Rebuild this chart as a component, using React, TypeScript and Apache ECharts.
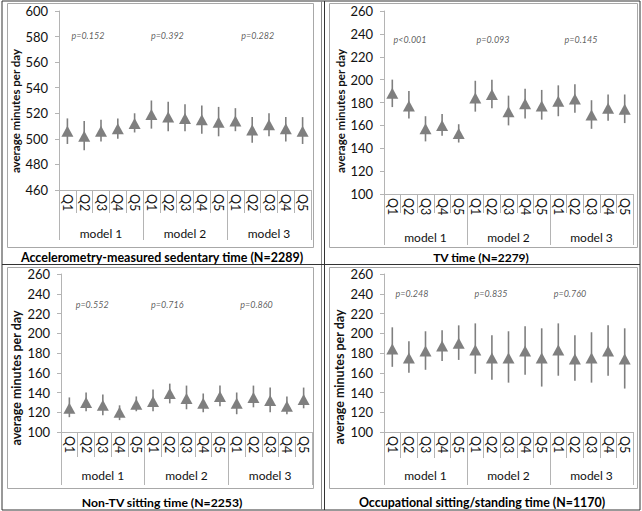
import React, { useEffect, useRef } from "react";
import * as echarts from "echarts";

const QUARTILES = ["Q1", "Q2", "Q3", "Q4", "Q5", "Q1", "Q2", "Q3", "Q4", "Q5", "Q1", "Q2", "Q3", "Q4", "Q5"];
const MODELS = ["model 1", "model 2", "model 3"];

// Accelerometry-measured sedentary time
const accelMean = [506, 502, 506, 508, 512, 519, 517, 516, 515, 513, 514, 507, 511, 508, 506];
const accelLow = [496, 491, 498, 500, 505, 508, 506, 506, 504, 502, 506, 497, 502, 498, 496];
const accelHigh = [516, 514, 515, 516, 520, 530, 529, 527, 526, 525, 524, 517, 520, 517, 517];
const accelP = ["p=0.152", "p=0.392", "p=0.282"];

// TV time
const tvMean = [188, 177, 157, 160, 153, 184, 187, 172, 179, 177, 181, 183, 169, 175, 174];
const tvLow = [176, 166, 146, 151, 145, 172, 175, 160, 166, 165, 168, 171, 157, 164, 162];
const tvHigh = [200, 190, 168, 170, 161, 199, 200, 186, 192, 191, 195, 196, 182, 187, 187];
const tvP = ["p<0.001", "p=0.093", "p=0.145"];

// Non-TV sitting time
const nonTvMean = [124, 130, 127, 120, 128, 131, 139, 134, 129, 136, 129, 135, 132, 126, 133];
const nonTvLow = [115, 121, 117, 112, 121, 121, 129, 123, 120, 126, 118, 125, 120, 118, 124];
const nonTvHigh = [135, 140, 138, 127, 136, 143, 149, 147, 139, 147, 140, 147, 145, 136, 145];
const nonTvP = ["p=0.552", "p=0.716", "p=0.860"];

// Occupational sitting/standing time
const occMean = [184, 175, 182, 187, 190, 183, 175, 175, 182, 175, 183, 174, 175, 182, 174];
const occLow = [166, 160, 163, 172, 173, 159, 153, 150, 158, 146, 157, 152, 150, 157, 144];
const occHigh = [206, 192, 202, 203, 208, 210, 198, 202, 207, 205, 210, 198, 201, 208, 205];
const occP = ["p=0.248", "p=0.835", "p=0.760"];

const TITLES = [
  "Accelerometry-measured sedentary time (N=2289)",
  "TV time (N=2279)",
  "Non-TV sitting time (N=2253)",
  "Occupational sitting/standing time (N=1170)",
];
const Y_MIN = [460, 100, 100, 100];
const Y_MAX = [600, 260, 260, 260];
const Y_NAME = "average minutes per day";

const PANELS = [
  { mean: accelMean, low: accelLow, high: accelHigh, p: accelP, pX: [1.72, 6.45, 11.83], pY: 581 },
  { mean: tvMean, low: tvLow, high: tvHigh, p: tvP, pX: [1.57, 6.57, 11.87], pY: 235 },
  { mean: nonTvMean, low: nonTvLow, high: nonTvHigh, p: nonTvP, pX: [1.86, 6.35, 11.68], pY: 229 },
  { mean: occMean, low: occLow, high: occHigh, p: occP, pX: [1.69, 6.45, 11.2], pY: 240 },
];

// layout (pixels)
const LAYOUT = [
  { left: 59, top: 11, width: 252, height: 179, qTick: 23, gTick: 50, nameGap: 33, nameSize: 11.5, nameShift: 21, box: [7, 3, 306, 244], titleX: 162, titleY: 257, titleSize: 12.5 },
  { left: 384, top: 11, width: 249, height: 183, qTick: 19, gTick: 51, nameGap: 37, nameSize: 11.5, nameShift: 17, box: [329, 3, 308, 244], titleX: 481, titleY: 257, titleSize: 12 },
  { left: 61, top: 274, width: 251, height: 158, qTick: 25, gTick: 53, nameGap: 35, nameSize: 12.5, nameShift: 50, box: [7, 267, 306, 221], titleX: 162, titleY: 502, titleSize: 12.2 },
  { left: 384, top: 274, width: 249, height: 158, qTick: 26, gTick: 53, nameGap: 37, nameSize: 12.5, nameShift: 48, box: [329, 267, 308, 221], titleX: 482, titleY: 502, titleSize: 12.4 },
];

const AXIS_GRAY = "#b4b4b4";
const MARK_GRAY = "#7f7f7f";
const FONT = "Lato";

export default function App() {
  const ref = useRef<HTMLDivElement>(null);

  useEffect(() => {
    if (!ref.current) return;
    const chart = echarts.init(ref.current, undefined, { renderer: "svg" });

    const grid: any[] = [];
    const xAxis: any[] = [];
    const yAxis: any[] = [];
    const series: any[] = [];
    const graphic: any[] = [];

    graphic.push({
      type: "rect",
      shape: { x: 2, y: 1, width: 638, height: 509 },
      style: { fill: "none", stroke: "#333", lineWidth: 1 },
      silent: true,
    });
    graphic.push({ type: "line", shape: { x1: 321.5, y1: 1, x2: 321.5, y2: 510 }, style: { stroke: "#888", lineWidth: 1 } });
    graphic.push({ type: "line", shape: { x1: 324.5, y1: 1, x2: 324.5, y2: 510 }, style: { stroke: "#333", lineWidth: 1 } });
    graphic.push({ type: "line", shape: { x1: 2, y1: 264.5, x2: 640, y2: 264.5 }, style: { stroke: "#333", lineWidth: 1 } });

    PANELS.forEach((p, i) => {
      const L = LAYOUT[i];
      grid.push({ left: L.left, top: L.top, width: L.width, height: L.height });
      xAxis.push({
        type: "category",
        gridIndex: i,
        data: QUARTILES,
        axisLine: { show: true, lineStyle: { color: AXIS_GRAY, width: 1 } },
        axisTick: { show: true, interval: 0, length: L.qTick, lineStyle: { color: AXIS_GRAY } },
        axisLabel: { interval: 0, rotate: -90, margin: 4, fontSize: 12.5, color: "#111", fontFamily: FONT },
        splitLine: { show: false },
      });
      xAxis.push({
        type: "category",
        gridIndex: i,
        data: MODELS,
        position: "bottom",
        axisLine: { show: false },
        axisTick: { show: true, interval: 0, length: L.gTick, lineStyle: { color: AXIS_GRAY } },
        axisLabel: { interval: 0, margin: 37, fontSize: 12, color: "#111", fontFamily: FONT },
        splitLine: { show: false },
      });
      xAxis.push({ type: "value", gridIndex: i, min: 0, max: 15, show: false });
      yAxis.push({
        type: "value",
        gridIndex: i,
        min: Y_MIN[i],
        max: Y_MAX[i],
        interval: 20,
        axisLine: { show: true, lineStyle: { color: AXIS_GRAY, width: 1 } },
        axisTick: { show: true, length: 4, lineStyle: { color: AXIS_GRAY } },
        axisLabel: { margin: 11, fontSize: 13, color: "#111", fontFamily: FONT },
        splitLine: { show: false },
        name: Y_NAME,
        nameLocation: "middle",
        nameRotate: 90,
        nameGap: L.nameGap,
        nameTextStyle: {
          fontSize: L.nameSize,
          fontWeight: "bold",
          color: "#111",
          fontFamily: FONT,
          padding: [0, L.nameShift, 0, 0],
        },
      });

      series.push({
        type: "custom",
        xAxisIndex: i * 3,
        yAxisIndex: i,
        data: QUARTILES.map((_, j) => [j, p.low[j], p.high[j]]),
        encode: { x: 0, y: [1, 2] },
        renderItem: (params: any, api: any) => {
          const x = api.value(0);
          const a = api.coord([x, api.value(1)]);
          const b = api.coord([x, api.value(2)]);
          return {
            type: "line",
            shape: { x1: a[0], y1: a[1], x2: b[0], y2: b[1] },
            style: { stroke: MARK_GRAY, lineWidth: 1.6 },
          };
        },
        z: 2,
      });
      series.push({
        type: "scatter",
        xAxisIndex: i * 3,
        yAxisIndex: i,
        data: p.mean.map((v, j) => [j, v]),
        symbol: "triangle",
        symbolSize: [12, 11],
        itemStyle: { color: MARK_GRAY, opacity: 1 },
        z: 3,
      });
      series.push({
        type: "scatter",
        xAxisIndex: i * 3 + 2,
        yAxisIndex: i,
        data: p.p.map((t, k) => ({ name: t, value: [p.pX[k], p.pY] })),
        symbolSize: 0,
        label: {
          show: true,
          position: "inside",
          formatter: "{b}",
          fontSize: 9,
          fontStyle: "italic",
          color: "#333",
          fontFamily: FONT,
        },
        z: 4,
      });

      graphic.push({
        type: "rect",
        shape: { x: L.box[0] + 0.5, y: L.box[1] + 0.5, width: L.box[2], height: L.box[3] },
        style: { fill: "none", stroke: "#a8a8a8", lineWidth: 1 },
        silent: true,
      });
      graphic.push({
        type: "text",
        x: L.titleX,
        y: L.titleY,
        style: {
          text: TITLES[i],
          fontSize: L.titleSize,
          fontWeight: "bold",
          fontFamily: FONT,
          fill: "#000",
          textAlign: "center",
          textVerticalAlign: "middle",
        },
        silent: true,
      });
    });

    chart.setOption({
      animation: false,
      backgroundColor: "#fff",
      textStyle: { fontFamily: FONT },
      grid,
      xAxis,
      yAxis,
      series,
      graphic,
    });

    return () => chart.dispose();
  }, []);

  return (
    <div
      ref={ref}
      style={{ position: "fixed", left: 0, top: 0, width: 642, height: 511 }}
    />
  );
}
